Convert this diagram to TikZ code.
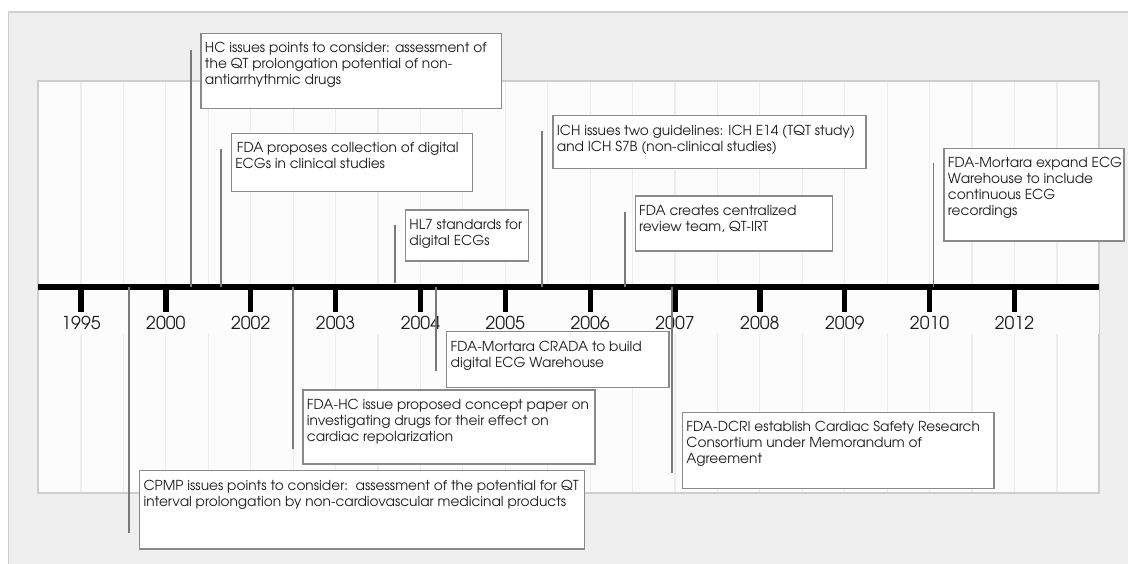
\documentclass[tikz,border=0pt]{standalone}
\usepackage{fontspec}
\setmainfont{TeX Gyre Adventor}
\usetikzlibrary{fit}
\definecolor{outerbg}{HTML}{EFEFEF}
\definecolor{outerline}{HTML}{D0D0D0}
\definecolor{panelbg}{HTML}{FCFCFC}
\definecolor{panelline}{HTML}{CDCDCD}
\definecolor{gridc}{HTML}{ECECEC}
\definecolor{boxgray}{HTML}{8A8A8A}
\definecolor{conngray}{HTML}{7A7A7A}
\definecolor{txt}{HTML}{1E1E1E}
\newcommand\myevent[9]{%
  \coordinate (#1a) at (#2,#3);
  \coordinate (#1b) at (#4,#5);
  \node[evbox,fit=(#1a)(#1b)] (#1) {};
  \node[evtext] (#1txt) at ([shift={(4.3,9.5)}]#1.north west) {#9};
  \coordinate (#1ct) at (#6,#7);
  \coordinate (#1cb) at (#6,#8);
  \draw[conn] (#1ct) -- (#1cb);
}
\begin{document}
\begin{tikzpicture}[x=0.75pt,y=-0.75pt,
  evbox/.style={draw=boxgray,line width=0.9pt,fill=white,inner sep=0pt},
  evtext/.style={anchor=north west,inner sep=0pt,align=left,font=\fontsize{10.3}{12}\selectfont,text=txt},
  conn/.style={draw=conngray,line width=1.3pt},
  tickmark/.style={line width=4pt,black},
  yearlab/.style={font=\fontsize{13.3}{15}\selectfont,text=txt,inner sep=0pt}]
\useasboundingbox (0,0) rectangle (1128,564);
% outer background
\fill[outerbg] (8.5,12) rectangle (1128,564);
\draw[outerline,line width=1.1pt] (1128,12) -- (8.5,12) -- (8.5,564);
% panel
\filldraw[fill=panelbg,draw=panelline,line width=1.4pt] (38.3,81) rectangle (1099.3,493);
\foreach \k in {0,...,23} \draw[gridc,line width=0.9pt] ({81+42.43*\k},82) -- ({81+42.43*\k},492);
\fill[panelbg] (39,289.5) rectangle (1098.5,334);
% timeline
\coordinate (tlL) at (38.3,287);
\coordinate (tlR) at (1099.3,287);
\draw[line width=3.8pt,black] (tlL) -- (tlR);
\foreach \yr [count=\i from 0] in {1995,2000,2002,2003,2004,2005,2006,2007,2008,2009,2010,2012}{
  \coordinate (tk\i) at ({81+84.86*\i},287);
  \coordinate (tkb\i) at ({81+84.86*\i},312);
  \draw[tickmark] (tk\i) -- (tkb\i);
  \node[yearlab] (yr\i) at ({81+84.86*\i},322.5) {\yr};
}
% events above
\myevent{hc}{201}{33.3}{501.4}{108.3}{190.8}{49.5}{287}{HC issues points to consider: assessment of\\the QT prolongation potential of non-\\antiarrhythmic drugs}
\myevent{fdap}{231.3}{133.3}{472.3}{191.7}{220.9}{149}{287}{\hspace{1.2pt}FDA proposes collection of digital\\ECGs in clinical studies}
\myevent{ich}{552.9}{115.7}{866}{168.3}{542}{131}{287}{ICH issues two guidelines: ICH E14 (TQT study)\\and ICH S7B (non-clinical studies)}
\myevent{hl}{405.4}{210}{528.8}{261}{395}{225}{283}{HL7 standards for\\digital ECGs}
\myevent{fdac}{635.2}{196}{832.7}{251}{625}{212}{287}{FDA creates centralized\\review team, QT-IRT}
\myevent{fmx}{944}{148.3}{1124}{241}{933.5}{163}{287}{FDA-Mortara expand ECG\\Warehouse to include\\continuous ECG\\recordings}
% events below
\myevent{crada}{446.7}{331.7}{669}{387.3}{435.7}{287}{371}{FDA-Mortara CRADA to build\\digital ECG Warehouse}
\myevent{fdahc}{303}{390}{595}{464}{292.7}{287}{449}{FDA-HC issue proposed concept paper on\\investigating drugs for their effect on\\cardiac repolarization}
\myevent{cpmp}{139.6}{470.7}{584.5}{549}{128.8}{287}{533}{CPMP issues points to consider:\ \ assessment of the potential for QT\\interval prolongation by non-cardiovascular medicinal products}
\myevent{dcri}{682.5}{412.3}{994}{488.7}{672}{287}{473.3}{FDA-DCRI establish Cardiac Safety Research\\Consortium under Memorandum of\\Agreement}
\end{tikzpicture}
\end{document}
